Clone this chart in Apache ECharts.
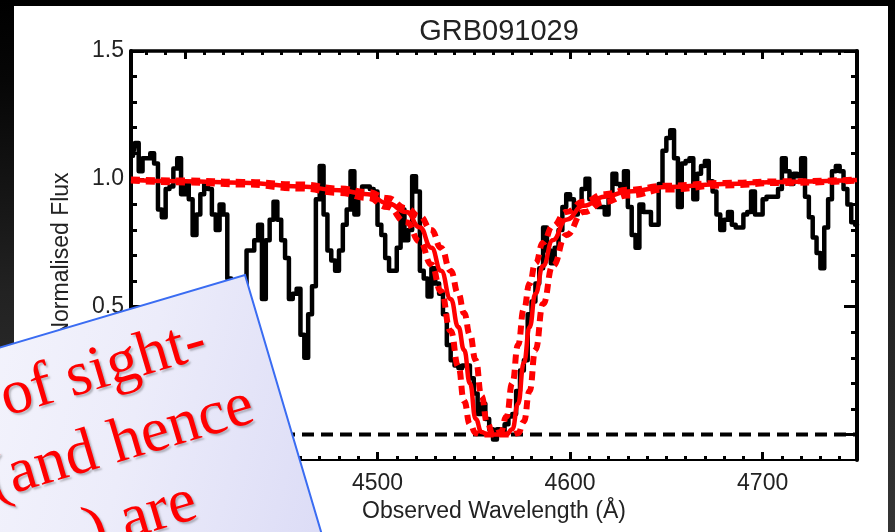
<!DOCTYPE html>
<html><head><meta charset="utf-8">
<script src="https://cdn.jsdelivr.net/npm/echarts@6/dist/echarts.min.js"></script>
<style>html,body{margin:0;padding:0;background:#000;overflow:hidden}#c{width:895px;height:532px}</style>
</head><body><div id="c"></div><script>
// ---- text ----
const titleText = 'GRB091029';
const xAxisName = 'Observed Wavelength (Å)';
const yAxisName = 'Normalised Flux';
const noteLines = ['of sight-', '(and hence', ') are'];

// ---- axes ----
const xMin = 4372, xMax = 4749;
const yMin = -0.1, yMax = 1.5;
const xMajorTicks = [4400, 4500, 4600, 4700];
const xMinorTicks = [4380, 4390, 4410, 4420, 4430, 4440, 4450, 4460, 4470, 4480, 4490,
  4510, 4520, 4530, 4540, 4550, 4560, 4570, 4580, 4590, 4610, 4620, 4630, 4640, 4650,
  4660, 4670, 4680, 4690, 4710, 4720, 4730, 4740];
const yMajorTicks = [0, 0.5, 1.0, 1.5];
const yMinorTicks = [0.1, 0.2, 0.3, 0.4, 0.6, 0.7, 0.8, 0.9, 1.1, 1.2, 1.3, 1.4];

// ---- observed spectrum (2 A bins starting at 4373 A) ----
const specStart = 4373, specStep = 2;
const specFlux = [
  1.09, 1.14, 1.03, 1.08, 1.08, 1.10, 1.06, 0.88, 0.85, 0.96,
  0.97, 1.04, 1.08, 0.94, 0.98, 0.92, 0.78, 0.86, 0.94, 0.98,
  0.96, 0.86, 0.80, 0.90, 0.86, 0.61, 0.45, 0.37, 0.41, 0.53,
  0.72, 0.72, 0.76, 0.82, 0.53, 0.76, 0.84, 0.91, 0.84, 0.76,
  0.69, 0.53, 0.55, 0.57, 0.39, 0.30, 0.47, 0.58, 0.92, 1.05,
  0.86, 0.72, 0.68, 0.64, 0.72, 0.82, 0.88, 1.03, 0.86, 0.95,
  0.97, 0.97, 0.96, 0.95, 0.82, 0.78, 0.69, 0.64, 0.64, 0.73,
  0.88, 0.76, 0.80, 1.01, 0.95, 0.64, 0.61, 0.54, 0.65, 0.59,
  0.55, 0.47, 0.35, 0.29, 0.27, 0.26, 0.27, 0.27, 0.22, 0.16,
  0.08, 0.12, 0.06, 0.02, -0.02, 0.02, 0.01, 0.04, 0.07, 0.08,
  0.17, 0.25, 0.29, 0.47, 0.52, 0.59, 0.65, 0.81, 0.72, 0.67,
  0.73, 0.80, 0.89, 0.94, 0.92, 0.86, 0.90, 0.96, 1.00, 0.92,
  0.91, 0.89, 0.89, 0.86, 0.94, 1.02, 0.98, 0.97, 1.03, 0.89,
  0.78, 0.73, 0.90, 0.87, 0.87, 0.82, 0.82, 0.98, 1.11, 1.16,
  1.19, 1.08, 0.89, 1.06, 1.07, 1.08, 0.92, 1.02, 1.05, 1.07,
  0.99, 0.95, 0.86, 0.80, 0.84, 0.87, 0.82, 0.81, 0.81, 0.86,
  0.87, 0.95, 0.86, 0.86, 0.92, 0.93, 0.93, 0.93, 0.96, 1.08,
  1.03, 0.98, 1.02, 1.01, 1.08, 0.93, 0.85, 0.77, 0.71, 0.65,
  0.81, 0.92, 1.03, 1.05, 1.03, 0.96, 0.90, 0.83, 0.82
];

// ---- fitted profiles ----
const fitWave = [4372, 4400, 4430, 4460, 4480, 4495, 4505, 4515, 4522, 4528, 4533, 4538,
  4542, 4545, 4548, 4551, 4554, 4557, 4560, 4564, 4567, 4570, 4573, 4576, 4579, 4582,
  4586, 4591, 4598, 4607, 4618, 4630, 4650, 4680, 4710, 4749];
const fitBest = [0.995, 0.99, 0.985, 0.97, 0.955, 0.94, 0.905, 0.87, 0.81, 0.73, 0.64, 0.53,
  0.42, 0.33, 0.20, 0.06, 0.01, 0.0, 0.0, 0.0, 0.0, 0.02, 0.12, 0.28, 0.42, 0.55,
  0.66, 0.76, 0.84, 0.895, 0.93, 0.95, 0.968, 0.98, 0.988, 0.995];
const fitNarrow = [0.997, 0.993, 0.988, 0.978, 0.962, 0.948, 0.925, 0.885, 0.853, 0.80, 0.73, 0.64,
  0.55, 0.475, 0.39, 0.29, 0.15, 0.045, 0.0, 0.01, 0.07, 0.20, 0.35, 0.49, 0.59, 0.67,
  0.75, 0.815, 0.87, 0.91, 0.94, 0.957, 0.973, 0.984, 0.99, 0.997];
const fitWide = [0.993, 0.986, 0.978, 0.962, 0.945, 0.925, 0.89, 0.83, 0.755, 0.665, 0.56, 0.405,
  0.265, 0.13, 0.04, 0.005, 0.0, 0.0, 0.0, 0.0, 0.0, 0.0, 0.005, 0.05, 0.17, 0.33,
  0.51, 0.66, 0.78, 0.87, 0.91, 0.935, 0.958, 0.974, 0.984, 0.993];
const zeroWave = [4372, 4749];
const zeroFlux = [0, 0];

// ---- build series data ----
const specData = specFlux.map((f, i) => [specStart + i * specStep, f]);
const pair = (xs, ys) => xs.map((x, i) => [x, ys[i]]);

const FONT = '"Liberation Sans", Arial, Helvetica, sans-serif';
const SERIF = '63px "Liberation Serif", "Times New Roman", serif';
const chart = echarts.init(document.getElementById('c'), null, {renderer: 'canvas'});

function xAx(pos, major, withLabel, lineW) {
  return {
    type: 'value', min: xMin, max: xMax, position: pos,
    axisLine: {show: lineW > 0, onZero: false, lineStyle: {color: '#000', width: lineW}},
    axisTick: {show: true, inside: true, length: major ? 8 : 4,
      customValues: major ? xMajorTicks : xMinorTicks,
      lineStyle: {color: '#000', width: 3}},
    axisLabel: withLabel ? {show: true, customValues: xMajorTicks, margin: 12,
      fontSize: 23, color: '#222', fontFamily: FONT, formatter: v => String(v)} : {show: false},
    splitLine: {show: false},
    name: withLabel ? xAxisName : '', nameLocation: 'middle', nameGap: 36,
    nameTextStyle: {fontSize: 23, color: '#222', fontFamily: FONT}
  };
}
function yAx(pos, major, withLabel, lineW) {
  return {
    type: 'value', min: yMin, max: yMax, position: pos,
    axisLine: {show: lineW > 0, onZero: false, lineStyle: {color: '#000', width: lineW}},
    axisTick: {show: true, inside: true, length: major ? 13 : 6,
      customValues: major ? yMajorTicks : yMinorTicks,
      lineStyle: {color: '#000', width: 3}},
    axisLabel: withLabel ? {show: true, customValues: yMajorTicks, margin: 7,
      fontSize: 23, color: '#222', fontFamily: FONT, formatter: v => v.toFixed(1)} : {show: false},
    splitLine: {show: false},
    name: withLabel ? yAxisName : '', nameLocation: 'middle', nameGap: 58,
    nameTextStyle: {fontSize: 23, color: '#222', fontFamily: FONT}
  };
}

const shadow = {textShadowColor: 'rgba(0,0,0,0.25)', textShadowBlur: 2,
  textShadowOffsetX: 2, textShadowOffsetY: 2};

const option = {
  animation: false,
  backgroundColor: new echarts.graphic.LinearGradient(0, 0, 0, 1, [
    {offset: 0, color: '#000000'}, {offset: 0.15, color: '#060606'},
    {offset: 0.55, color: '#222222'}, {offset: 1, color: '#353535'}]),
  title: {text: titleText, left: 494, top: 12, textAlign: 'center',
    textStyle: {fontSize: 29, fontWeight: 'normal', color: '#222', fontFamily: FONT}},
  grid: {left: 131, right: 38, top: 51, bottom: 72, containLabel: false},
  xAxis: [xAx('bottom', true, true, 2), xAx('bottom', false, false, 0),
          xAx('top', true, false, 3.5), xAx('top', false, false, 0)],
  yAxis: [yAx('left', true, true, 4), yAx('left', false, false, 0),
          yAx('right', true, false, 4), yAx('right', false, false, 0)],
  series: [
    {type: 'line', name: 'zero', data: pair(zeroWave, zeroFlux), symbol: 'none', z: 2,
      lineStyle: {color: '#000', width: 4, type: [12, 7]}},
    {type: 'line', name: 'spectrum', data: specData, step: 'middle', symbol: 'none', z: 3,
      lineStyle: {color: '#000', width: 4.5, join: 'round', cap: 'round'}},
    {type: 'line', name: 'fitWide', data: pair(fitWave, fitWide), smooth: true, smoothMonotone: 'x',
      symbol: 'none', z: 4, lineStyle: {color: '#ff0000', width: 6, type: [9, 6]}},
    {type: 'line', name: 'fitNarrow', data: pair(fitWave, fitNarrow), smooth: true, smoothMonotone: 'x',
      symbol: 'none', z: 4, lineStyle: {color: '#ff0000', width: 6, type: [9, 6]}},
    {type: 'line', name: 'fitBest', data: pair(fitWave, fitBest), smooth: true, smoothMonotone: 'x',
      symbol: 'none', z: 5, lineStyle: {color: '#ff0000', width: 4.5}}
  ],
  graphic: [
    {type: 'rect', z: -10, silent: true, shape: {x: 14, y: 6, width: 874, height: 526},
      style: {fill: '#ffffff'}},
    {type: 'group', x: 245, y: 275, rotation: 16.5 * Math.PI / 180, z: 100, zlevel: 1,
      children: [
        {type: 'rect', z: 100, zlevel: 1, shape: {x: -460, y: 0, width: 460, height: 460},
          style: {fill: new echarts.graphic.LinearGradient(0, 0, 1, 0.6, [
            {offset: 0, color: '#fafafe'}, {offset: 0.6, color: '#ececfa'}, {offset: 1, color: '#dcdcf6'}]),
            stroke: '#3a6cf2', lineWidth: 2}},
        {type: 'text', z: 101, zlevel: 1, x: -57, y: 51, style: Object.assign({text: noteLines[0], fill: '#ff0000',
          font: SERIF, align: 'right', verticalAlign: 'middle'}, shadow)},
        {type: 'text', z: 101, zlevel: 1, x: -30, y: 127, style: Object.assign({text: noteLines[1], fill: '#ff0000',
          font: SERIF, align: 'right', verticalAlign: 'middle'}, shadow)},
        {type: 'text', z: 101, zlevel: 1, x: -112, y: 203, style: Object.assign({text: noteLines[2], fill: '#ff0000',
          font: SERIF, align: 'right', verticalAlign: 'middle'}, shadow)}
      ]}
  ]
};
chart.setOption(option);
</script></body></html>
